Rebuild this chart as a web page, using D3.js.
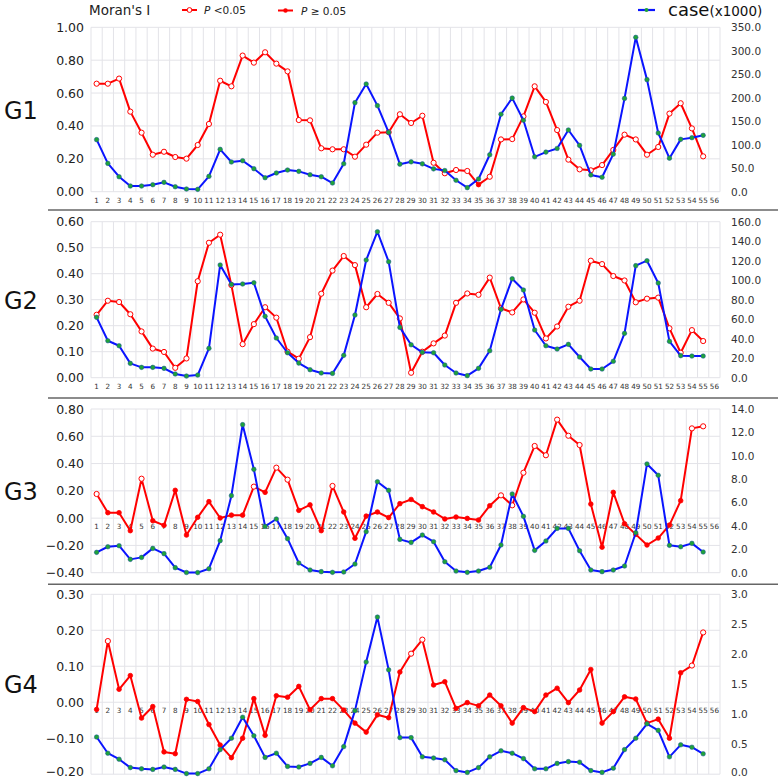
<!DOCTYPE html>
<html><head><meta charset="utf-8">
<script src="https://cdn.jsdelivr.net/npm/d3@7/dist/d3.min.js"></script>
<style>body{margin:0;background:#fff}svg{display:block}</style></head>
<body><svg id="c" width="778" height="781"></svg>
<script>
// ---------- DATA ----------
const weeks = d3.range(1, 57); // x categories 1..56 (data at 1..55)
const groups = ["G1", "G2", "G3", "G4"];

const g1Moran = [0.657,0.657,0.688,0.487,0.359,0.225,0.243,0.211,0.201,0.284,0.412,0.675,0.641,0.828,0.785,0.848,0.779,0.732,0.436,0.434,0.264,0.258,0.258,0.213,0.286,0.359,0.362,0.471,0.418,0.462,0.176,0.112,0.132,0.126,0.043,0.091,0.318,0.320,0.458,0.641,0.546,0.375,0.195,0.136,0.130,0.162,0.254,0.347,0.318,0.225,0.272,0.475,0.538,0.385,0.215];
const g1Sig   = [1,1,1,1,1,1,1,1,1,1,1,1,1,1,1,1,1,1,1,1,1,1,1,1,1,1,1,1,1,1,1,1,1,1,0,1,1,1,1,1,1,1,1,1,1,1,1,1,1,1,1,1,1,1,1];
const g1Case  = [110.8,60.3,31.9,12.1,12.1,14.9,19.9,10.6,5.7,5.0,32.7,90.2,63.2,66.0,49.0,29.8,39.8,46.1,43.3,36.2,31.9,18.5,59.6,189.6,229.3,183.2,126.4,58.6,63.6,59.3,48.6,45.0,24.3,8.6,27.1,78.6,165.0,199.3,152.1,74.3,84.3,92.1,131.4,98.6,35.7,30.7,80.0,198.6,328.6,238.6,125.0,71.4,111.4,115.0,120.0];

const g2Moran = [0.242,0.296,0.291,0.244,0.178,0.112,0.099,0.038,0.074,0.371,0.519,0.550,0.356,0.129,0.206,0.271,0.231,0.100,0.073,0.156,0.323,0.412,0.468,0.433,0.271,0.322,0.288,0.228,0.019,0.100,0.132,0.162,0.288,0.324,0.319,0.385,0.267,0.251,0.301,0.250,0.151,0.197,0.273,0.296,0.450,0.437,0.391,0.374,0.290,0.304,0.308,0.190,0.096,0.183,0.141];
const g2Sig   = [1,1,1,1,1,1,1,1,1,1,1,1,1,1,1,1,1,1,1,1,1,1,1,1,1,1,1,1,1,1,1,1,1,1,1,1,1,1,1,1,1,1,1,1,1,1,1,1,1,1,1,1,1,1,1];
const g2Case  = [61.9,37.9,32.8,14.7,10.6,10.6,9.6,3.8,1.7,2.7,30.1,115.6,95.7,96.1,97.4,62.9,40.7,25.6,15.0,8.2,4.8,4.4,22.9,64.3,120.7,149.7,119.0,51.6,33.8,26.0,25.6,13.0,4.8,2.1,9.6,27.7,70.1,101.5,89.9,48.9,32.8,29.4,34.2,21.2,8.9,8.9,16.8,45.5,114.9,120.0,97.1,37.3,22.6,22.2,22.2];

const g3Moran = [0.177,0.040,0.040,-0.092,0.289,-0.019,-0.053,0.204,-0.124,0.006,0.121,0.001,0.022,0.022,0.231,0.189,0.370,0.282,0.057,0.097,-0.092,0.236,0.045,-0.148,0.015,0.045,0.004,0.106,0.137,0.084,0.045,-0.006,0.008,-0.002,-0.014,0.091,0.167,0.094,0.333,0.529,0.461,0.722,0.604,0.536,0.103,-0.213,0.189,-0.041,-0.119,-0.197,-0.146,-0.051,0.128,0.658,0.673];
const g3Sig   = [1,0,0,0,1,0,0,0,0,0,0,0,0,0,1,0,1,1,0,0,0,1,0,0,0,0,0,0,0,0,0,0,0,0,0,0,1,1,1,1,1,1,1,1,0,0,0,0,0,0,0,0,0,1,1];
const g3Case  = [1.74,2.22,2.31,1.14,1.31,2.08,1.63,0.43,0.02,0.01,0.34,2.74,6.59,12.66,8.84,3.96,4.59,2.91,0.83,0.23,0.09,0.03,0.06,0.74,3.51,7.78,7.04,2.85,2.59,3.22,2.65,0.94,0.14,0.03,0.14,0.46,2.37,6.73,4.82,1.91,2.71,3.79,3.79,1.88,0.23,0.09,0.23,0.57,3.42,9.30,8.33,2.34,2.22,2.51,1.77];

const g4Moran = [-0.020,0.170,0.036,0.074,-0.044,-0.012,-0.138,-0.143,0.008,0.002,-0.062,-0.119,-0.154,-0.100,0.010,-0.092,0.018,0.014,0.044,-0.021,0.010,0.010,-0.022,-0.058,-0.083,-0.035,-0.043,0.084,0.135,0.174,0.048,0.057,-0.017,-0.001,-0.010,0.020,-0.010,-0.058,-0.015,-0.026,0.020,0.039,-0.001,0.034,0.091,-0.058,-0.026,0.015,0.009,-0.058,-0.047,-0.100,0.082,0.102,0.194];
const g4Sig   = [0,1,0,0,0,0,0,0,0,0,0,0,0,0,0,0,0,0,0,0,0,0,0,0,0,0,0,0,1,1,0,0,0,0,0,0,0,0,0,0,0,0,0,0,0,0,0,0,0,0,0,0,0,1,1];
const g4Case  = [0.62,0.35,0.25,0.11,0.09,0.08,0.12,0.08,0.01,0.01,0.09,0.41,0.60,0.95,0.64,0.28,0.35,0.13,0.12,0.18,0.28,0.14,0.46,1.06,1.87,2.62,1.74,0.61,0.61,0.29,0.27,0.24,0.06,0.03,0.11,0.29,0.39,0.35,0.26,0.09,0.09,0.18,0.21,0.20,0.06,0.03,0.10,0.41,0.60,0.84,0.73,0.29,0.49,0.45,0.34];

const g1LeftTicks = [0, 0.2, 0.4, 0.6, 0.8, 1.0];
const g1RightTicks = [0, 50, 100, 150, 200, 250, 300, 350];
const g2LeftTicks = [0, 0.1, 0.2, 0.3, 0.4, 0.5, 0.6];
const g2RightTicks = [0, 20, 40, 60, 80, 100, 120, 140, 160];
const g3LeftTicks = [-0.4, -0.2, 0, 0.2, 0.4, 0.6, 0.8];
const g3RightTicks = [0, 2, 4, 6, 8, 10, 12, 14];
const g4LeftTicks = [-0.2, -0.1, 0, 0.1, 0.2, 0.3];
const g4RightTicks = [0, 0.5, 1.0, 1.5, 2.0, 2.5, 3.0];

// ---------- LAYOUT ----------
const panels = [
  {name: groups[0], moran: g1Moran, sig: g1Sig, cases: g1Case, lt: g1LeftTicks, rt: g1RightTicks, top: 27.3, bot: 191.7, sep: null},
  {name: groups[1], moran: g2Moran, sig: g2Sig, cases: g2Case, lt: g2LeftTicks, rt: g2RightTicks, top: 221.7, bot: 377.7, sep: 210},
  {name: groups[2], moran: g3Moran, sig: g3Sig, cases: g3Case, lt: g3LeftTicks, rt: g3RightTicks, top: 409, bot: 572.7, sep: 398},
  {name: groups[3], moran: g4Moran, sig: g4Sig, cases: g4Case, lt: g4LeftTicks, rt: g4RightTicks, top: 594.3, bot: 774.2, sep: 584.3}
];

const RED = "#ff0000", BLUE = "#0a14ff", GREEN = "#1fa23a";
const svg = d3.select("#c");
const x = d3.scaleBand().domain(weeks).range([91, 720]).padding(0);
const cx = d => x(d) + x.bandwidth() / 2;

panels.forEach((p, pi) => {
  const g = svg.append("g");
  const yL = d3.scaleLinear().domain(d3.extent(p.lt)).range([p.bot, p.top]);
  const yR = d3.scaleLinear().domain(d3.extent(p.rt)).range([p.bot, p.top]);

  if (p.sep !== null) {
    g.append("line").attr("x1", 48).attr("x2", 778).attr("y1", p.sep).attr("y2", p.sep)
      .attr("stroke", "#666").attr("stroke-width", 1.5);
  }
  const edges = weeks.map(w => x(w)).concat([x.range()[1]]);
  g.selectAll(".vg").data(edges).join("line")
    .attr("x1", d => d).attr("x2", d => d).attr("y1", p.top).attr("y2", p.bot)
    .attr("stroke", "#e3e3e8").attr("stroke-width", 1);
  g.selectAll(".hg").data(p.lt).join("line")
    .attr("x1", x.range()[0]).attr("x2", x.range()[1])
    .attr("y1", d => yL(d)).attr("y2", d => yL(d))
    .attr("stroke", "#e3e3e8").attr("stroke-width", 1);

  const last = pi === panels.length - 1;
  const la = d3.axisLeft(yL).tickValues(p.lt).tickFormat(d3.format(".2f")).tickSize(0).tickPadding(0);
  const lag = g.append("g").attr("transform", "translate(84,0)").call(la);
  lag.select(".domain").remove();
  lag.selectAll("text").attr("font-family", "DejaVu Sans").attr("font-size", 12.5).attr("fill", "#222")
    .attr("dy", (d) => (last && d === p.lt[0]) ? "0.1em" : "0.32em");

  const ra = d3.axisRight(yR).tickValues(p.rt).tickFormat(d3.format(".1f")).tickSize(0).tickPadding(0);
  const rag = g.append("g").attr("transform", "translate(731,0)").call(ra);
  rag.select(".domain").remove();
  rag.selectAll("text").attr("font-family", "DejaVu Sans").attr("font-size", 10.5).attr("fill", "#333")
    .attr("dy", (d) => (last && d === p.rt[0]) ? "0.1em" : "0.32em");

  const xa = d3.axisBottom(x).tickSize(0).tickPadding(6);
  const xag = g.append("g").attr("transform", `translate(0,${yL(0)})`).call(xa);
  xag.select(".domain").remove();
  xag.selectAll("text").attr("font-family", "DejaVu Sans").attr("font-size", 7.2).attr("fill", "#333");

  g.append("text").attr("x", 4).attr("y", (p.top + p.bot) / 2 + 9)
    .attr("font-family", "DejaVu Sans").attr("font-size", 24).attr("fill", "#111").text(p.name);

  const pts = p.moran.map((v, i) => ({w: weeks[i], v, s: p.sig[i]}));
  const cpts = p.cases.map((v, i) => ({w: weeks[i], v}));

  g.append("path").datum(pts).attr("fill", "none").attr("stroke", RED).attr("stroke-width", 2)
    .attr("stroke-linejoin", "round")
    .attr("d", d3.line().x(d => cx(d.w)).y(d => yL(d.v)));
  g.selectAll(".rm").data(pts).join("circle")
    .attr("cx", d => cx(d.w)).attr("cy", d => yL(d.v))
    .attr("r", d => d.s ? 2.6 : 2.3)
    .attr("fill", d => d.s ? "#fff" : RED)
    .attr("stroke", RED).attr("stroke-width", d => d.s ? 1 : 0.8);

  g.append("path").datum(cpts).attr("fill", "none").attr("stroke", BLUE).attr("stroke-width", 2)
    .attr("stroke-linejoin", "round")
    .attr("d", d3.line().x(d => cx(d.w)).y(d => yR(d.v)));
  g.selectAll(".bm").data(cpts).join("circle")
    .attr("cx", d => cx(d.w)).attr("cy", d => yR(d.v)).attr("r", 2.3)
    .attr("fill", GREEN).attr("stroke", "#1a4fa0").attr("stroke-width", 0.5);
});

// ---------- LEGEND ----------
const lg = svg.append("g").attr("font-family", "DejaVu Sans");
lg.append("text").attr("x", 89).attr("y", 15).attr("font-size", 13.5).attr("fill", "#222").text("Moran's I");
lg.append("line").attr("x1", 182).attr("x2", 197).attr("y1", 10).attr("y2", 10).attr("stroke", RED).attr("stroke-width", 2);
lg.append("circle").attr("cx", 189.5).attr("cy", 10).attr("r", 2.4).attr("fill", "#fff").attr("stroke", RED).attr("stroke-width", 1);
const t1 = lg.append("text").attr("x", 204).attr("y", 14).attr("font-size", 10.5).attr("fill", "#222");
t1.append("tspan").attr("font-style", "italic").text("P");
t1.append("tspan").text(" <0.05");
lg.append("line").attr("x1", 278).attr("x2", 293).attr("y1", 10.5).attr("y2", 10.5).attr("stroke", RED).attr("stroke-width", 2);
lg.append("circle").attr("cx", 285.5).attr("cy", 10.5).attr("r", 2.2).attr("fill", RED);
const t2 = lg.append("text").attr("x", 301).attr("y", 14.5).attr("font-size", 10.5).attr("fill", "#222");
t2.append("tspan").attr("font-style", "italic").text("P");
t2.append("tspan").text(" \u2265 0.05");
lg.append("line").attr("x1", 638).attr("x2", 655).attr("y1", 10).attr("y2", 10).attr("stroke", BLUE).attr("stroke-width", 2.2);
lg.append("circle").attr("cx", 646.5).attr("cy", 10).attr("r", 2).attr("fill", GREEN);
const t3 = lg.append("text").attr("x", 668).attr("y", 16).attr("fill", "#111");
t3.append("tspan").attr("font-size", 18).text("case");
t3.append("tspan").attr("font-size", 13.5).text("(x1000)");
</script></body></html>
